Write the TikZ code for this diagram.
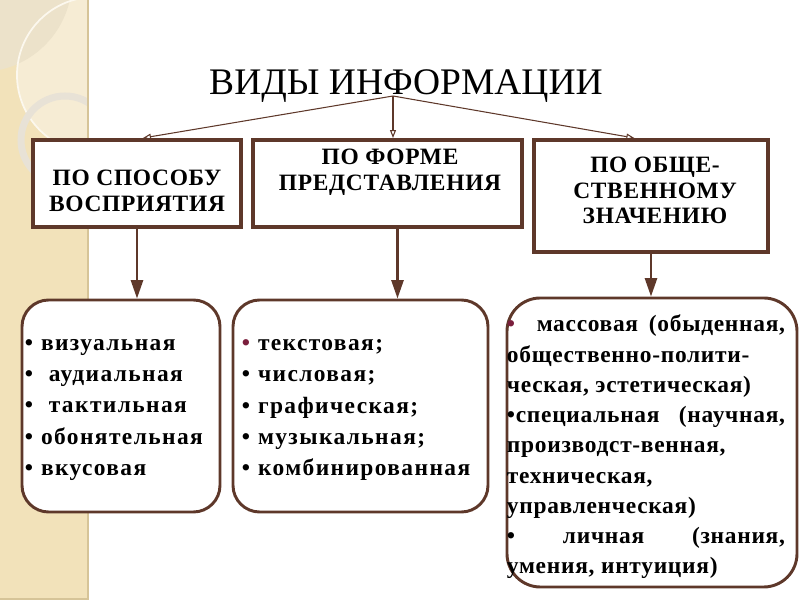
\documentclass[tikz,border=0pt]{standalone}
\usepackage{fontspec}
\setmainfont{Liberation Serif}
\usetikzlibrary{arrows.meta,positioning}
\tolerance=10000
\hbadness=10000

\definecolor{frame}{RGB}{94,56,42}
\definecolor{bulletred}{RGB}{122,30,60}
\definecolor{bandtan}{RGB}{242,226,186}
\definecolor{bandedge}{RGB}{214,196,152}
\definecolor{bandlight}{RGB}{246,236,212}
\definecolor{bandgrey}{RGB}{236,226,202}
\definecolor{ringcol}{RGB}{232,226,214}

\tikzset{
  headbox/.style={draw=frame, line width=3.4pt, fill=white, inner sep=0pt},
  headtext/.style={font=\fontsize{20}{21.8}\selectfont\bfseries\addfontfeature{LetterSpace=3}, align=center},
  listbox/.style={draw=frame, line width=2.5pt, fill=white, rounded corners=0.8cm, inner sep=0pt},
  listtext/.style={font=\fontsize{20}{26.5}\selectfont\bfseries\addfontfeature{LetterSpace=6}, align=left, inner sep=0pt},
  thinarrow/.style={draw=frame, line width=0.9pt, -{Triangle[open,length=2.4mm,width=1.8mm]}},
  thickarrow/.style={draw=frame, line width=2.1pt, -{Triangle[length=5.5mm,width=3.6mm]}},
}

\begin{document}
\begin{tikzpicture}[x=0.03cm, y=-0.03cm]
  \useasboundingbox (0,0) rectangle (800,600);

  % left band
  \fill[bandtan] (0,0) rectangle (88,600);
  \begin{scope}
    \clip (0,0) rectangle (88,600);
    \fill[bandlight] (95,75) circle (78);
    \fill[bandgrey] (-20,-20) circle (92);
    \draw[white!75!bandtan, line width=1.5pt] (95,75) circle (78);
    \draw[ringcol, line width=6pt] (65,140) circle (44);
  \end{scope}
  \draw[bandedge, line width=1.2pt] (88,0) -- (88,600);
  \draw[bandedge, line width=1.2pt] (0,599) -- (88,599);

  % title
  \node[font=\fontsize{32}{36}\selectfont, anchor=base] (title) at (406,95) {ВИДЫ ИНФОРМАЦИИ};
  \coordinate (fork) at (393,96);

  % headers
  \node[headbox, minimum width=6.24cm, minimum height=2.61cm] (sposob) at (137,183.5) {};
  \node[headtext] (sposobtxt) at (137,191) {ПО СПОСОБУ\\ВОСПРИЯТИЯ};
  \node[headbox, minimum width=8.07cm, minimum height=2.61cm] (forma) at (387.5,183.5) {};
  \node[headtext] (formatxt) at (390,172) {ПО ФОРМЕ\\ПРЕДСТАВЛЕНИЯ};
  \node[headbox, minimum width=7.02cm, minimum height=3.36cm] (znach) at (651,196) {};
  \node[headtext] (znachtxt) at (655,190.5) {ПО ОБЩЕ-\\СТВЕННОМУ\\ЗНАЧЕНИЮ};

  \draw[thinarrow] (fork) -- ([xshift=0.18cm]sposob.north);
  \draw[thinarrow] (fork) -- (fork |- forma.north);
  \draw[thinarrow] (fork) -- ([xshift=-0.5cm]znach.north);

  % lists
  \node[listbox, minimum width=5.94cm, minimum height=6.36cm] (percept) at (121,406) {};
  \node[listtext, text width=5.85cm] (percepttxt) at (122.5,410)
    {• визуальная\\•\ \ аудиальная\\•\ \ тактильная\\• обонятельная\\• вкусовая};
  \node[listbox, minimum width=7.65cm, minimum height=6.36cm] (present) at (360.5,406) {};
  \node[listtext, text width=7.2cm] (presenttxt) at (362,410)
    {{\color{bulletred}•} текстовая;\\• числовая;\\• графическая;\\• музыкальная;\\• комбинированная};
  \node[listbox, rounded corners=1cm, minimum width=8.7cm, minimum height=8.67cm] (social) at (652,442.5) {};
  \node[listtext, text width=8.34cm, align=justify, font=\fontsize{20}{25.8}\selectfont\bfseries\addfontfeature{LetterSpace=3}] (socialtxt) at (646,447)
    {{\color{bulletred}•}\ \ массовая (обыденная,\linebreak
     общественно-полити-\newline
     ческая, эстетическая)\newline
     •специальная (научная,\linebreak
     производст-венная,\newline
     техническая,\newline
     управленческая)\newline
     • личная (знания,\linebreak
     умения, интуиция)};

  \draw[thickarrow] (sposob.south) -- (sposob.south |- percept.north);
  \draw[thickarrow] ([xshift=0.3cm]forma.south) -- ([xshift=0.3cm]forma.south |- present.north);
  \draw[thickarrow] (znach.south) -- (znach.south |- social.north);
\end{tikzpicture}
\end{document}
